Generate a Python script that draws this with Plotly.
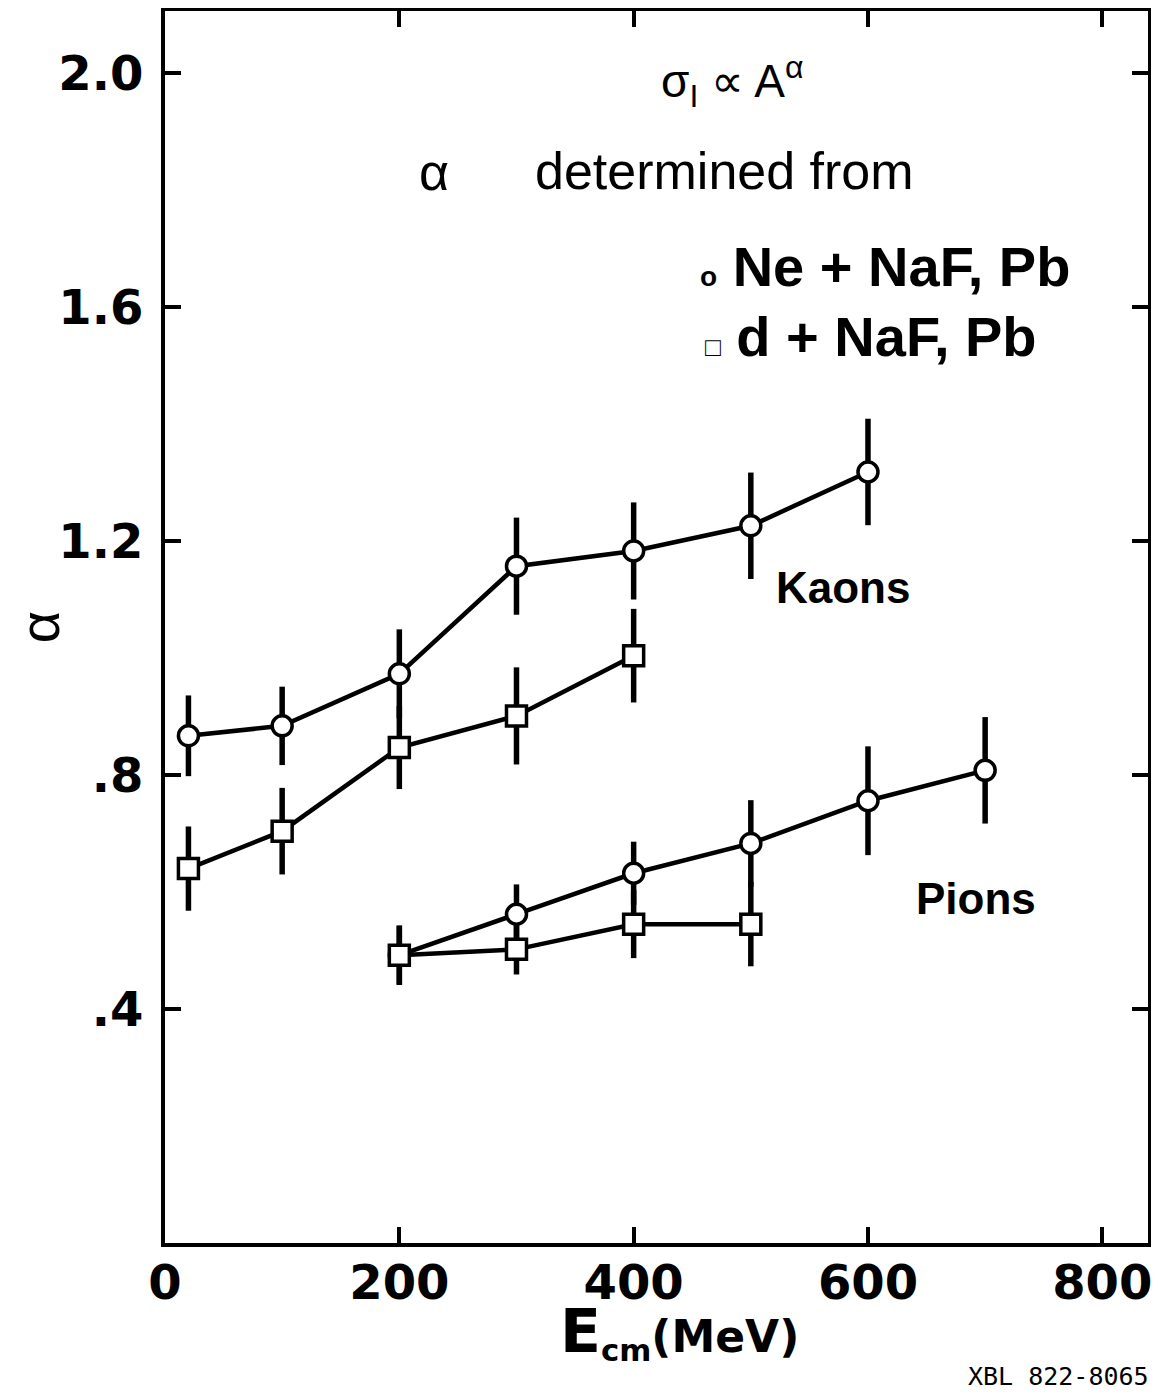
import plotly.graph_objects as go

# ---- data ----
kaon_ne_x = [20, 100, 200, 300, 400, 500, 600]
kaon_ne_y = [0.867, 0.884, 0.973, 1.157, 1.183, 1.226, 1.318]
kaon_ne_err = [0.069, 0.067, 0.076, 0.083, 0.083, 0.091, 0.091]

kaon_d_x = [20, 100, 200, 300, 400]
kaon_d_y = [0.640, 0.704, 0.847, 0.901, 1.004]
kaon_d_err = [0.072, 0.074, 0.071, 0.083, 0.080]

pion_ne_x = [200, 300, 400, 500, 600, 700]
pion_ne_y = [0.492, 0.562, 0.632, 0.683, 0.756, 0.808]
pion_ne_err = [0.051, 0.051, 0.054, 0.074, 0.093, 0.091]

pion_d_x = [200, 300, 400, 500]
pion_d_y = [0.492, 0.502, 0.545, 0.545]
pion_d_err = [0.050, 0.043, 0.058, 0.072]

x_ticks = [0, 200, 400, 600, 800]
x_ticklabels = ["0", "200", "400", "600", "800"]
y_ticks = [0.4, 0.8, 1.2, 1.6, 2.0]
y_ticklabels = [".4", ".8", "1.2", "1.6", "2.0"]

FONT = "DejaVu Sans"
TEXTFONT = "Liberation Sans, Arial"

fig = go.Figure()


def add_series(x, y, err, symbol):
    fig.add_trace(go.Scatter(
        x=x, y=y, mode="lines+markers",
        line=dict(color="black", width=4.5),
        marker=dict(symbol=symbol, size=20, color="white",
                    line=dict(color="black", width=3.5)),
        error_y=dict(type="data", array=err, visible=True,
                     color="black", thickness=5.5, width=0),
        showlegend=False,
    ))


add_series(kaon_ne_x, kaon_ne_y, kaon_ne_err, "circle")
add_series(kaon_d_x, kaon_d_y, kaon_d_err, "square")
add_series(pion_ne_x, pion_ne_y, pion_ne_err, "circle")
add_series(pion_d_x, pion_d_y, pion_d_err, "square")

ann = []
ann.append(dict(x=484, y=1.985, xref="x", yref="y",
                text="σ<sub>I</sub> ∝ A<sup>α</sup>",
                font=dict(family=TEXTFONT, size=46, color="black"),
                showarrow=False, xanchor="center", yanchor="middle"))
ann.append(dict(x=215, y=1.831, xref="x", yref="y",
                text="α",
                font=dict(family=TEXTFONT, size=52, color="black"),
                showarrow=False, xanchor="left", yanchor="middle"))
ann.append(dict(x=314, y=1.833, xref="x", yref="y",
                text="determined from",
                font=dict(family=TEXTFONT, size=52, color="black"),
                showarrow=False, xanchor="left", yanchor="middle"))
ann.append(dict(x=455, y=1.669, xref="x", yref="y",
                text="<span style='font-size:28px'><b>o</b></span> <b>Ne + NaF, Pb</b>",
                font=dict(family=TEXTFONT, size=56, color="black"),
                showarrow=False, xanchor="left", yanchor="middle"))
ann.append(dict(x=459, y=1.550, xref="x", yref="y",
                text="<span style='font-size:26px'><b>□</b></span> <b>d + NaF, Pb</b>",
                font=dict(family=TEXTFONT, size=56, color="black"),
                showarrow=False, xanchor="left", yanchor="middle"))
ann.append(dict(x=520, y=1.120, xref="x", yref="y",
                text="<b>Kaons</b>",
                font=dict(family=TEXTFONT, size=44, color="black"),
                showarrow=False, xanchor="left", yanchor="middle"))
ann.append(dict(x=639, y=0.589, xref="x", yref="y",
                text="<b>Pions</b>",
                font=dict(family=TEXTFONT, size=44, color="black"),
                showarrow=False, xanchor="left", yanchor="middle"))
# x-axis title
ann.append(dict(x=439, y=-0.041, xref="x", yref="paper",
                text="<b><span style='font-size:60px'>E</span><sub>cm</sub>(MeV)</b>",
                font=dict(family=FONT, size=44, color="black"),
                showarrow=False, xanchor="center", yanchor="top"))
# figure id
ann.append(dict(x=1.003, y=-0.108, xref="paper", yref="paper",
                text="XBL 822-8065",
                font=dict(family="DejaVu Sans Mono", size=25, color="black"),
                showarrow=False, xanchor="right", yanchor="middle"))

# page body has an 8px margin, so the figure is 8px smaller and shifted
fig.update_layout(
    width=1151, height=1387,
    margin=dict(l=157, r=11, t=3, b=152),
    paper_bgcolor="white", plot_bgcolor="white",
    annotations=ann,
    xaxis=dict(range=[0, 839], tickvals=x_ticks, ticktext=x_ticklabels,
               ticks="inside", ticklen=16, tickwidth=4, tickcolor="black",
               showline=True, linewidth=4, linecolor="black", mirror="ticks",
               showgrid=False, zeroline=False, automargin=False,
               tickfont=dict(family=FONT, size=48, color="black", weight="bold"),
               ticklabelstandoff=-6),
    yaxis=dict(range=[0, 2.106], tickvals=y_ticks, ticktext=y_ticklabels,
               ticks="inside", ticklen=16, tickwidth=4, tickcolor="black",
               showline=True, linewidth=4, linecolor="black", mirror="ticks",
               showgrid=False, zeroline=False, automargin=False,
               tickfont=dict(family=FONT, size=48, color="black", weight="bold"),
               ticklabelstandoff=8,
               title=dict(text="α", font=dict(family=TEXTFONT, size=56, color="black"),
                          standoff=20)),
)

fig.write_html("out.html")
